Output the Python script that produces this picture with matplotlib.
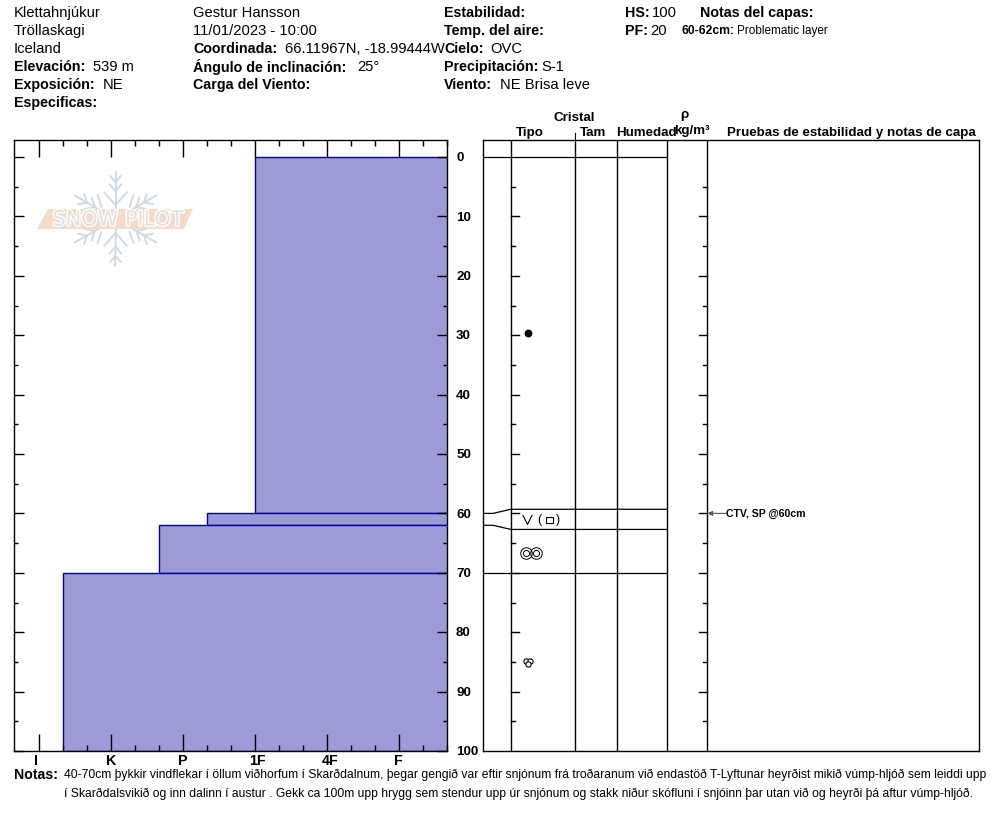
import matplotlib
matplotlib.use("Agg")
import matplotlib.pyplot as plt
from matplotlib.patches import Polygon, Rectangle
import matplotlib.patheffects as pe
import numpy as np

plt.rcParams['font.family'] = ['Liberation Sans', 'DejaVu Sans']

W, H = 994, 840

# layer data, depth in cm from the surface
layer_top = [0, 60, 62, 70]
layer_bottom = [60, 62, 70, 100]
hardness = [3.0, 2.33, 1.67, 0.33]  # 0=I 1=K 2=P 3=1F 4=4F 5=F
hardness_labels = ['I', 'K', 'P', '1F', '4F', 'F']
depth_ticks = [0, 10, 20, 30, 40, 50, 60, 70, 80, 90, 100]
layer_lines = [0, 60, 62, 70]
test_depth = 60
test_label = 'CTV, SP @60cm'
grain_depths = [29.6, 61.1, 66.7, 85]

notes_1 = ("40-70cm þykkir vindflekar í öllum viðhorfum í Skarðdalnum, þegar gengið var eftir snjónum frá "
           "troðaranum við endastöð T-Lyftunar heyrðist mikið vúmp-hljóð sem leiddi upp")
notes_2 = ("í Skarðdalsvikið og inn dalinn í austur . Gekk ca 100m upp hrygg sem stendur upp úr snjónum og "
           "stakk niður skófluni í snjóinn þar utan við og heyrði þá aftur vúmp-hljóð.")


def axes_px(fig, x0, y0, x1, y1):
    return fig.add_axes([x0 / W, 1 - y1 / H, (x1 - x0) / W, (y1 - y0) / H])


fig = plt.figure(figsize=(W / 100, H / 100), dpi=100)

# overlay in pixel coordinates for header text and the logo
bg = fig.add_axes([0, 0, 1, 1], zorder=0)
bg.set_xlim(0, W)
bg.set_ylim(H, 0)
bg.axis('off')


def label(x, y, s, bold=False, size=None, **kw):
    if size is None:
        size = 10.3 if bold else 10.6
    bg.text(x, y + 0.8, s, fontsize=size, fontweight='bold' if bold else 'normal',
            va='center', ha=kw.pop('ha', 'left'), color='black', clip_on=False, **kw)


label(14, 12, 'Klettahnjúkur')
label(14, 30, 'Tröllaskagi')
label(14, 48, 'Iceland')
label(14, 66, 'Elevación:', True)
label(93, 66, '539 m')
label(14, 84, 'Exposición:', True)
label(103, 84, 'NE')
label(14, 102, 'Especificas:', True)

label(193, 12, 'Gestur Hansson')
label(193, 30, '11/01/2023 - 10:00')
label(193, 48, 'Coordinada:', True)
label(285, 48, '66.11967N, -18.99444W')
label(193, 66, 'Ángulo de inclinación:', True)
label(357, 66, '25°')
label(193, 84, 'Carga del Viento:', True)

label(444, 12, 'Estabilidad:', True)
label(444, 30, 'Temp. del aire:', True)
label(444, 48, 'Cielo:', True)
label(490, 48, 'OVC')
label(444, 66, 'Precipitación:', True)
label(541, 66, 'S-1')
label(444, 84, 'Viento:', True)
label(500, 84, 'NE Brisa leve')

label(625, 12, 'HS:', True)
label(652, 12, '100')
label(700, 12, 'Notas del capas:', True)
label(625, 30, 'PF:', True)
label(650, 30, '20')
label(682, 30.5, '60-62cm:', True, size=8.7)
label(737, 30.5, 'Problematic layer', size=8.5)

label(554, 117, 'Cristal', True, size=9.65)
label(516, 132.5, 'Tipo', True, size=9.65)
label(580, 132.5, 'Tam', True, size=9.65)
label(616, 132.5, 'Humedad', True, size=9.65)
label(680, 114.5, 'ρ', True, size=9.65)
label(674, 130, 'kg/m³', True, size=9.65)
label(727, 132.5, 'Pruebas de estabilidad y notas de capa', True, size=9.65)

label(14, 774, 'Notas:', True, size=10.2)
label(64, 774.5, notes_1, size=8.78)
label(64, 793.5, notes_2, size=8.78)

# left panel: hardness profile
ax = axes_px(fig, 14, 140, 447, 751)
ax.set_zorder(1)
ax.patch.set_alpha(0)
ax.set_xlim(-25 / 72, 408 / 72)
ax.set_ylim(100, -17 / 5.94)
for top, bottom, h in zip(layer_top, layer_bottom, hardness):
    ax.barh(top, 6 - h, height=bottom - top, left=h, align='edge', color='#9b9bd6',
            edgecolor='#0000a0', linewidth=1, zorder=1)

ax.set_xticks(range(6))
ax.set_xticklabels([])
ax.set_xticks(np.arange(0, 6, 1 / 3), minor=True)
ax.tick_params(axis='x', which='major', direction='in', top=True, bottom=True, length=12, width=1)
ax.tick_params(axis='x', which='minor', direction='in', top=True, bottom=True, length=4, width=1)
ax.set_yticks(depth_ticks)
ax.set_yticklabels([])
ax.set_yticks(np.arange(5, 100, 10), minor=True)
ax.tick_params(axis='y', which='major', direction='in', left=True, right=True, length=7, width=1)
ax.tick_params(axis='y', which='minor', direction='in', left=True, right=True, length=3, width=1)
for s in ax.spines.values():
    s.set_linewidth(1)

label_nudge = [-2.5, 0, -0.5, 2, 2, -0.5]
for i, lab in enumerate(hardness_labels):
    ax.annotate(lab, (i, 100), xytext=(label_nudge[i], -2), textcoords='offset points', ha='center',
                va='top', fontweight='bold', fontsize=10.2, annotation_clip=False)
for d in depth_ticks:
    ax.annotate(str(d), (5.667, d), xytext=(6.5, -0.8), textcoords='offset points', ha='left',
                va='center', fontweight='bold', fontsize=9.6, annotation_clip=False)

# logo
cx, cy = 115.5, 219
snow = '#cfdbe3'


def stroke(x0, y0, x1, y1):
    bg.plot([x0, x1], [y0, y1], color=snow, lw=1.4, zorder=1, solid_capstyle='round')


for ang in np.arange(0, 360, 60):
    a = np.radians(ang + 90)
    dx, dy = np.cos(a), -np.sin(a)
    upright = ang % 180 == 0
    stroke(cx + 10 * dx, cy + 10 * dy, cx + 47 * dx, cy + 47 * dy)
    branches = ((14, 17), (28, 9), (37, 8)) if upright else ((24, 10), (33, 9))
    for r, b in branches:
        for sgn in (-1, 1):
            t = a + sgn * np.radians(42)
            stroke(cx + r * dx, cy + r * dy, cx + r * dx + b * np.cos(t), cy + r * dy - b * np.sin(t))
for sx in (-1, 1):
    stroke(cx + sx * 18, 195, cx + sx * 14, 207)
    stroke(cx + sx * 14, 232, cx + sx * 18, 243)

bg.add_patch(Polygon([(37, 229), (48, 209), (193, 209), (184, 229)], closed=True,
                     facecolor='#f4dcc9', edgecolor='none', zorder=2))
bg.text(118, 219.5, 'SNOW PILOT', color='#e3e1df', fontsize=15, ha='center', va='center', zorder=3,
        family='DejaVu Sans',
        path_effects=[pe.withStroke(linewidth=2, foreground='white')])

# right panel: layer table
cols = [483, 511, 575, 617, 667, 707, 979]
rx = axes_px(fig, 483, 140, 979, 751)
rx.set_zorder(1)
rx.patch.set_alpha(0)
rx.set_xlim(483, 979)
rx.set_ylim(100, -17 / 5.94)
rx.set_xticks([])
rx.set_yticks([])
for s in rx.spines.values():
    s.set_linewidth(1)
for c in cols[1:-1]:
    rx.axvline(c, color='black', lw=1)
rx.plot([575, 575], [-2.86, -4], color='black', lw=0.8, clip_on=False)

# layer lines, with the fan over the depth column
layer_shift = {0: 0, 60: -0.7, 62: 0.7, 70: 0}
for d in layer_lines:
    y2 = d + layer_shift[d]
    rx.plot([483, 493, 511, 667], [d, d, y2, y2], color='black', lw=0.9)

# depth ticks on the table columns
for d in np.arange(5, 100, 5):
    n = 8 if d % 10 == 0 else 4
    rx.plot([511, 511 + n], [d, d], color='black', lw=1)
    rx.plot([707 - n, 707], [d, d], color='black', lw=1)

# grain symbols
rx.plot([528], [grain_depths[0]], 'o', color='black', ms=4.6)
yv = grain_depths[1]
rx.plot([523, 527.5, 532], [yv - 0.75, yv + 0.75, yv - 0.75], color='black', lw=0.8)
rx.text(539.5, yv, '(', fontsize=9, ha='center', va='center')
rx.add_patch(Rectangle((545.5, yv - 0.55), 7, 1.1, fill=False, edgecolor='black', lw=0.8))
rx.text(558.5, yv, ')', fontsize=9, ha='center', va='center')
yc = grain_depths[2]
for xc in (525.7, 536):
    for ms in (8.3, 4.4):
        rx.plot([xc], [yc], 'o', mfc='none', mec='black', mew=0.7, ms=ms)
yf = grain_depths[3]
for xo, yo in ((-2.2, -0.2), (2.2, -0.2), (0, 0.3)):
    rx.plot([528 + xo], [yf + yo], 'o', mfc='white', mec='black', mew=0.8, ms=3.8)

# stability test marker
rx.annotate('', xy=(707.5, test_depth), xytext=(726, test_depth),
            arrowprops=dict(arrowstyle='-|>', color='#555555', lw=0.8, mutation_scale=7,
                            shrinkA=0, shrinkB=0))
rx.text(726, test_depth + 0.15, test_label, fontsize=7.6, fontweight='bold', va='center', ha='left')

fig.savefig('out.png', dpi=100)
